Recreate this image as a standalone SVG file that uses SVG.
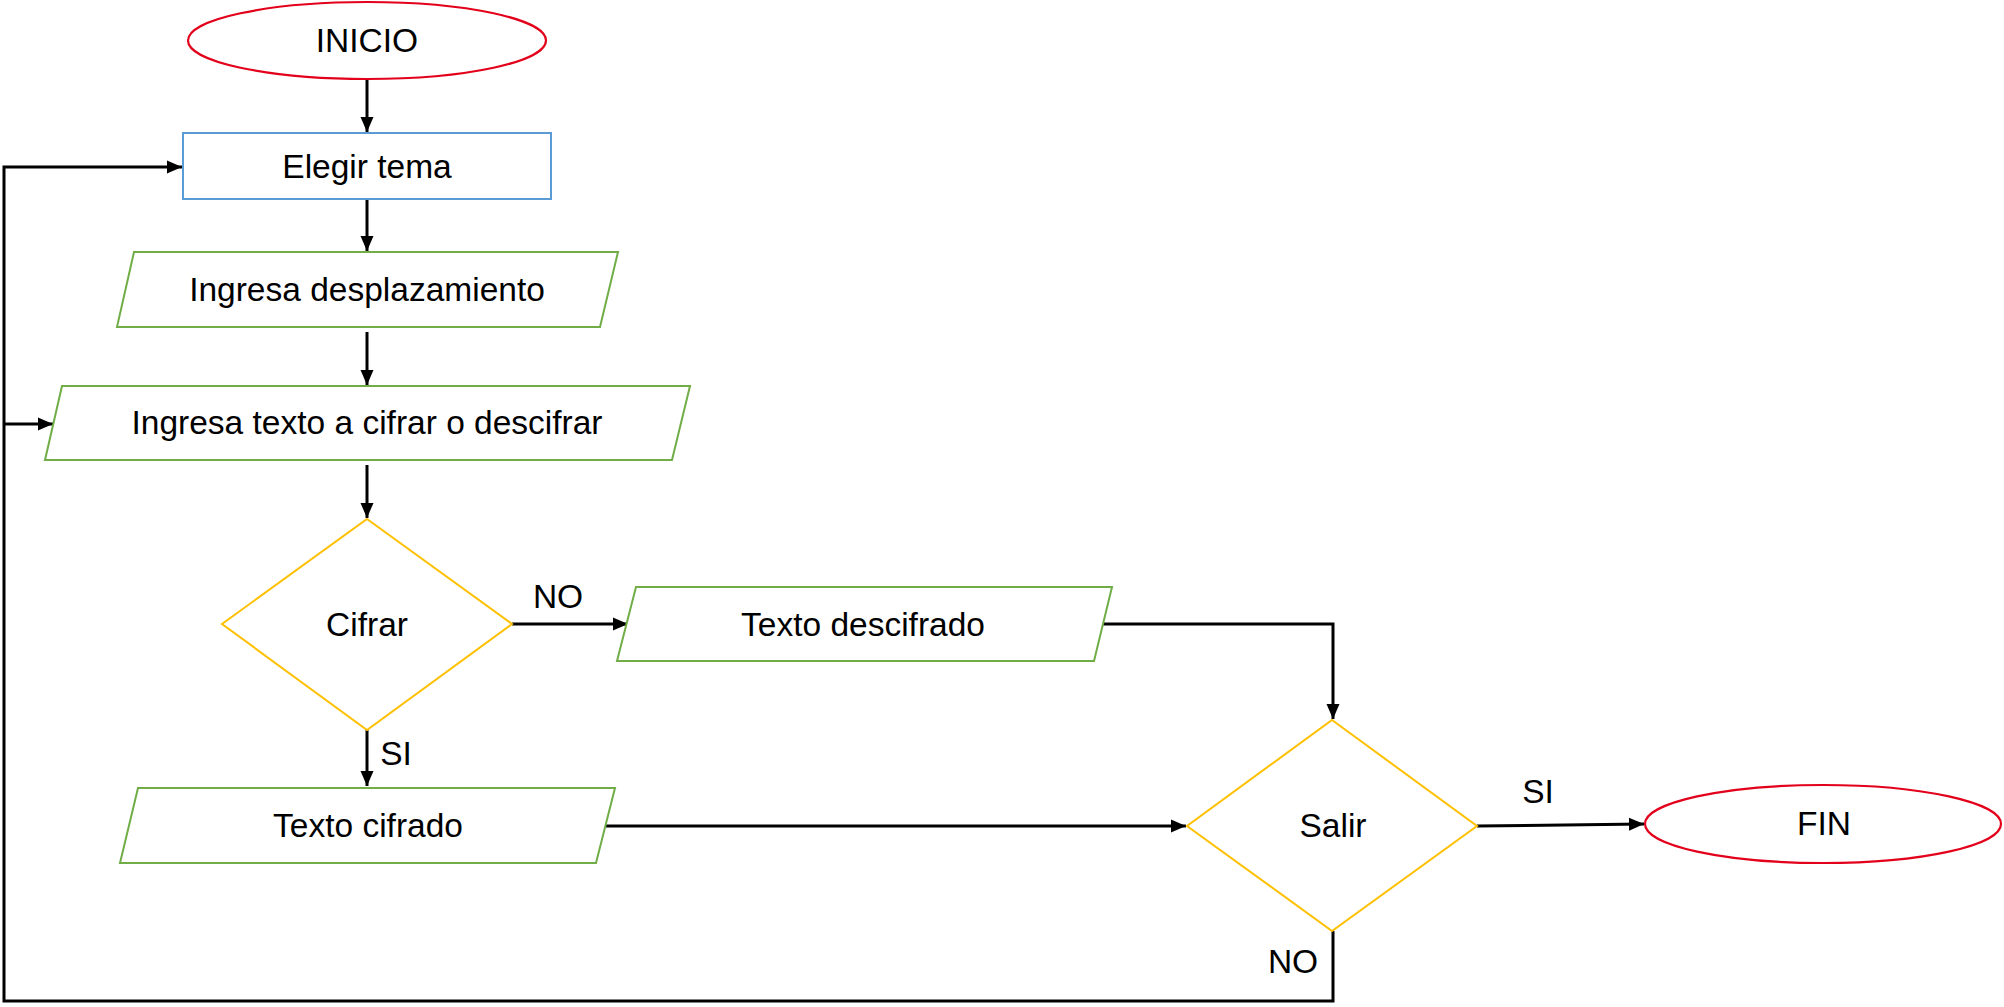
<svg xmlns="http://www.w3.org/2000/svg" width="2004" height="1007" viewBox="0 0 2004 1007">
<style>
.t{font-family:"Liberation Sans",Arial,sans-serif;font-size:33.5px;fill:#000;text-anchor:middle}
.term{fill:#fff;stroke:#e3001b;stroke-width:2.2}
.proc{fill:#fff;stroke:#5b9bd5;stroke-width:2}
.io{fill:#fff;stroke:#70ad47;stroke-width:2}
.dec{fill:#fff;stroke:#ffc000;stroke-width:2}
.c{fill:none;stroke:#000;stroke-width:3}
</style>
<defs>
<marker id="ah" markerUnits="userSpaceOnUse" markerWidth="16" markerHeight="16" refX="15" refY="8" orient="auto">
<path d="M0,1.5 L15,8 L0,14.5 z" fill="#000"/>
</marker>
</defs>
<rect width="2004" height="1007" fill="#fff"/>
<g id="connectors">
<path class="c" d="M367,79 V132" marker-end="url(#ah)"/>
<path class="c" d="M367,199 V251" marker-end="url(#ah)"/>
<path class="c" d="M367,332 V385" marker-end="url(#ah)"/>
<path class="c" d="M367,465 V518" marker-end="url(#ah)"/>
<path class="c" d="M512,624 H628" marker-end="url(#ah)"/>
<path class="c" d="M367,730 V786" marker-end="url(#ah)"/>
<path class="c" d="M1102,624 H1333 V719" marker-end="url(#ah)"/>
<path class="c" d="M606,826 H1186" marker-end="url(#ah)"/>
<path class="c" d="M1477,826 L1644,824" marker-end="url(#ah)"/>
<path class="c" d="M1333,931 V1001 H4 V167 H182" marker-end="url(#ah)"/>
<path class="c" d="M4,424 H53" marker-end="url(#ah)"/>
<text class="t" x="558" y="608">NO</text>
<text class="t" x="396" y="765">SI</text>
<text class="t" x="1538" y="803">SI</text>
<text class="t" x="1293" y="973">NO</text>
</g>
<g id="inicio">
<ellipse class="term" cx="367" cy="40.5" rx="179" ry="38.5"/>
<text class="t" x="367" y="52">INICIO</text>
</g>
<g id="elegir">
<rect class="proc" x="183" y="133" width="368" height="66"/>
<text class="t" x="367" y="178">Elegir tema</text>
</g>
<g id="desplazamiento">
<polygon class="io" points="134,252 618,252 600,327 117,327"/>
<text class="t" x="367" y="301">Ingresa desplazamiento</text>
</g>
<g id="texto">
<polygon class="io" points="62,386 690,386 672,460 45,460"/>
<text class="t" x="367" y="434">Ingresa texto a cifrar o descifrar</text>
</g>
<g id="cifrar">
<polygon class="dec" points="367,519 512,624 367,730 222,624"/>
<text class="t" x="367" y="636">Cifrar</text>
</g>
<g id="descifrado">
<polygon class="io" points="636,587 1112,587 1094,661 617,661"/>
<text class="t" x="863" y="636">Texto descifrado</text>
</g>
<g id="cifrado">
<polygon class="io" points="138,788 615,788 596,863 120,863"/>
<text class="t" x="368" y="837">Texto cifrado</text>
</g>
<g id="salir">
<polygon class="dec" points="1332,720 1477,826 1332,931 1187,826"/>
<text class="t" x="1333" y="837">Salir</text>
</g>
<g id="fin">
<ellipse class="term" cx="1823" cy="824" rx="178" ry="39"/>
<text class="t" x="1824" y="835">FIN</text>
</g>
</svg>
